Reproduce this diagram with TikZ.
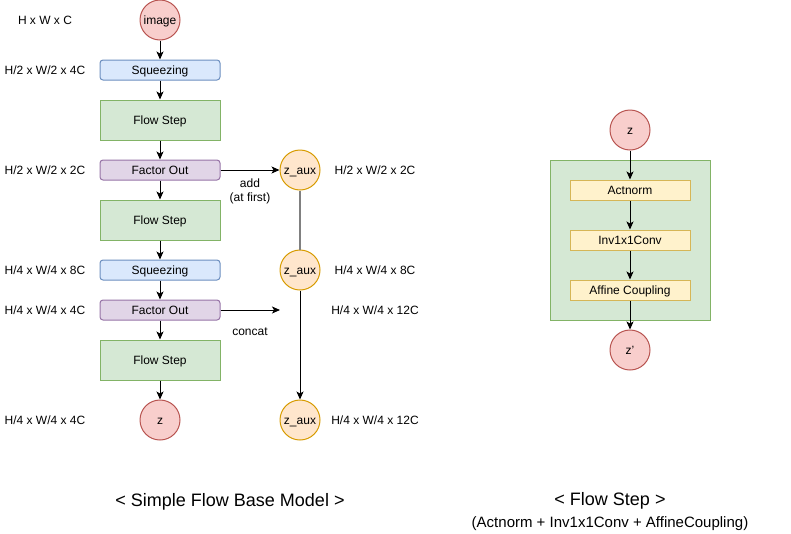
\documentclass[tikz,border=0pt]{standalone}
\usepackage{fontspec}
\setmainfont{Liberation Sans}
\usetikzlibrary{arrows.meta}
\definecolor{redfill}{HTML}{F8CECC}
\definecolor{reddraw}{HTML}{B85450}
\definecolor{bluefill}{HTML}{DAE8FC}
\definecolor{bluedraw}{HTML}{6C8EBF}
\definecolor{greenfill}{HTML}{D5E8D4}
\definecolor{greendraw}{HTML}{82B366}
\definecolor{purplefill}{HTML}{E1D5E7}
\definecolor{purpledraw}{HTML}{9673A6}
\definecolor{orangefill}{HTML}{FFE6CC}
\definecolor{orangedraw}{HTML}{D79B00}
\definecolor{yellowfill}{HTML}{FFF2CC}
\definecolor{yellowdraw}{HTML}{D6B656}
\definecolor{linkgray}{HTML}{808080}
\begin{document}
\begin{tikzpicture}[x=1pt,y=-1pt,
  every node/.style={font=\fontsize{12}{14}\selectfont, inner sep=0pt, text height=11pt, text depth=2pt},
  redcirc/.style={circle, minimum size=40pt, fill=redfill, draw=reddraw, line width=1pt},
  auxcirc/.style={circle, minimum size=40pt, fill=orangefill, draw=orangedraw, line width=1pt},
  sqbox/.style={rectangle, rounded corners=3pt, minimum width=120pt, minimum height=20pt, fill=bluefill, draw=bluedraw, line width=1pt},
  fsbox/.style={rectangle, minimum width=120pt, minimum height=40pt, fill=greenfill, draw=greendraw, line width=1pt},
  fobox/.style={rectangle, rounded corners=3pt, minimum width=120pt, minimum height=20pt, fill=purplefill, draw=purpledraw, line width=1pt},
  ybox/.style={rectangle, minimum width=120pt, minimum height=20pt, fill=yellowfill, draw=yellowdraw, line width=1pt},
  arr/.style={-{Stealth[length=8pt,width=7pt,inset=2pt]}, line width=1pt, black},
  bigtitle/.style={font=\fontsize{18}{21}\selectfont, text height=16pt, text depth=3pt},
]
\useasboundingbox (0,0) rectangle (791,533);

% left column
\node[redcirc] (img) at (160,20) {image};
\node[sqbox] (sq1) at (160,70) {Squeezing};
\node[fsbox] (fs1) at (160,120) {Flow Step};
\node[fobox] (fo1) at (160,170) {Factor Out};
\node[fsbox] (fs2) at (160,220) {Flow Step};
\node[sqbox] (sq2) at (160,270) {Squeezing};
\node[fobox] (fo2) at (160,310) {Factor Out};
\node[fsbox] (fs3) at (160,360) {Flow Step};
\node[redcirc] (z) at (160,420) {z};

\node[auxcirc] (za1) at (300,170) {z\_aux};
\node[auxcirc] (za2) at (300,270) {z\_aux};
\node[auxcirc] (za3) at (300,420) {z\_aux};
\coordinate (cc) at (280,310);

\draw[arr] (img) -- (sq1);
\draw[arr] (sq1) -- (fs1);
\draw[arr] (fs1) -- (fo1);
\draw[arr] (fo1) -- (fs2);
\draw[arr] (fs2) -- (sq2);
\draw[arr] (sq2) -- (fo2);
\draw[arr] (fo2) -- (fs3);
\draw[arr] (fs3) -- (z);
\draw[arr] (fo1) -- (za1);
\draw[arr] (fo2) -- (cc);
\draw[linkgray, line width=1.5pt] (za1) -- (za2);
\draw[arr] (za2) -- (za3);

\node[align=center, text height=, text depth=] (addl) at (250,191.5) {add\\(at first)};
\node (concl) at (250,331) {concat};

% left dimension labels
\node (l1) at (45,20) {H x W x C};
\node (l2) at (45,70) {H/2 x W/2 x 4C};
\node (l3) at (45,170) {H/2 x W/2 x 2C};
\node (l4) at (45,270) {H/4 x W/4 x 8C};
\node (l5) at (45,310) {H/4 x W/4 x 4C};
\node (l6) at (45,420) {H/4 x W/4 x 4C};

% right dimension labels
\node (r1) at (375,170) {H/2 x W/2 x 2C};
\node (r2) at (375,270) {H/4 x W/4 x 8C};
\node (r3) at (375,310) {H/4 x W/4 x 12C};
\node (r4) at (375,420) {H/4 x W/4 x 12C};

% right diagram
\node[fsbox, minimum width=160pt, minimum height=160pt] (fsbig) at (630,240) {};
\node[redcirc] (zin) at (630,130) {z};
\node[ybox] (act) at (630,190) {Actnorm};
\node[ybox] (inv) at (630,240) {Inv1x1Conv};
\node[ybox] (aff) at (630,290) {Affine Coupling};
\node[redcirc] (zout) at (630,350) {z'};
\draw[arr] (zin) -- (act);
\draw[arr] (act) -- (inv);
\draw[arr] (inv) -- (aff);
\draw[arr] (aff) -- (zout);

% titles
\node[bigtitle] (t1) at (230,500) {< Simple Flow Base Model >};
\node[bigtitle] (t2) at (610,499) {< Flow Step >};
\node[font=\fontsize{15}{18}\selectfont, text height=13.5pt, text depth=2.5pt] (t3) at (610,522) {(Actnorm + Inv1x1Conv + AffineCoupling)};
\end{tikzpicture}
\end{document}
